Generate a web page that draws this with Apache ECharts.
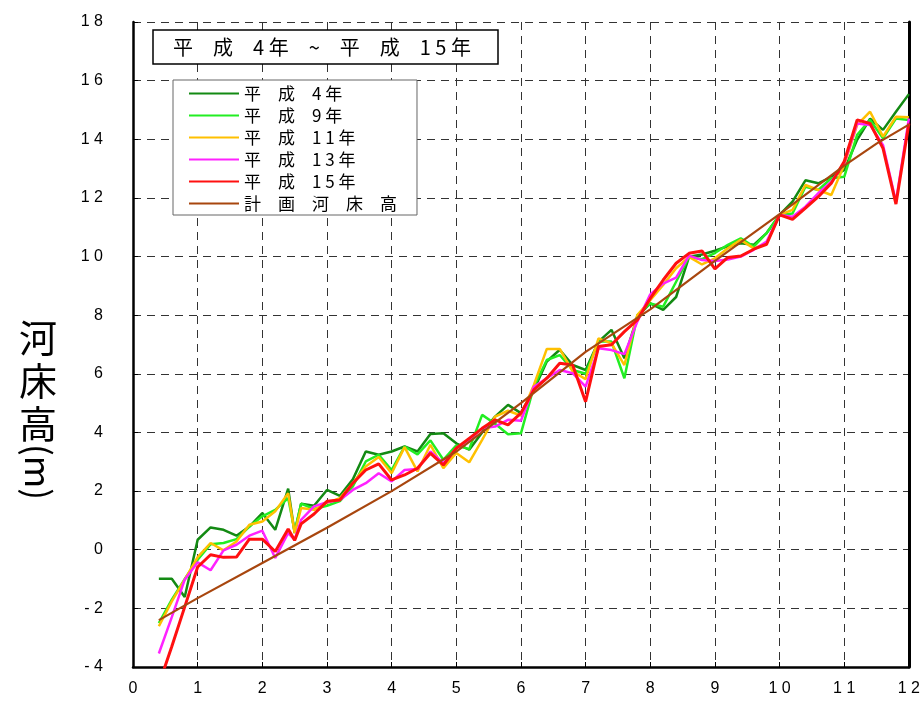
<!DOCTYPE html>
<html>
<head>
<meta charset="utf-8">
<script src="https://cdn.jsdelivr.net/npm/echarts@6/dist/echarts.min.js"></script>
<style>
  html, body { margin: 0; padding: 0; background: #fff; }
  #riverbed { width: 923px; height: 702px; }
</style>
</head>
<body>
<div id="riverbed"></div>
<script>
// 距離標 (km)
const distance = [0.4, 0.6, 0.8, 1.0, 1.2, 1.4, 1.6, 1.8, 2.0, 2.2, 2.4, 2.5, 2.6, 2.8, 3.0,
  3.2, 3.4, 3.6, 3.8, 4.0, 4.2, 4.4, 4.6, 4.8, 5.0, 5.2, 5.4, 5.6, 5.8, 6.0,
  6.2, 6.4, 6.6, 6.8, 7.0, 7.2, 7.4, 7.6, 7.8, 8.0, 8.2, 8.4, 8.6, 8.8, 9.0,
  9.2, 9.4, 9.6, 9.8, 10.0, 10.2, 10.4, 10.6, 10.8, 11.0, 11.2, 11.4, 11.6, 11.8, 12.0];

// 河床高 (m)
const h4 = [-0.99, -0.99, -1.61, 0.34, 0.76, 0.68, 0.48, 0.79, 1.25, 0.68, 2.08, 0.57, 1.57, 1.5, 2.04,
  1.84, 2.4, 3.35, 3.24, 3.35, 3.52, 3.35, 3.95, 3.97, 3.63, 3.41, 4.0, 4.54, 4.94, 4.66,
  5.45, 6.42, 6.82, 6.3, 6.13, 7.1, 7.5, 6.53, 7.95, 8.4, 8.18, 8.62, 9.99, 10.07, 10.2,
  10.35, 10.45, 10.4, 10.8, 11.42, 11.87, 12.6, 12.5, 12.72, 12.95, 13.98, 14.7, 14.32, 14.94, 15.54];
const h9 = [-2.5, -1.7, -1.0, -0.34, 0.19, 0.23, 0.36, 0.79, 1.14, 1.36, 1.76, 0.63, 1.57, 1.39, 1.5,
  1.66, 2.16, 3.01, 3.24, 2.72, 3.52, 3.25, 3.73, 3.07, 3.56, 3.43, 4.6, 4.3, 3.94, 3.97,
  5.56, 6.47, 6.64, 6.13, 6.0, 7.1, 7.1, 5.85, 8.0, 8.4, 8.29, 9.14, 9.99, 9.91, 10.12,
  10.4, 10.62, 10.34, 10.8, 11.42, 11.47, 12.38, 12.27, 12.67, 12.72, 14.15, 14.66, 14.03, 14.71, 14.66];
const h11 = [-2.61, -1.76, -1.02, -0.25, 0.23, -0.02, 0.28, 0.85, 0.96, 1.31, 1.93, 0.57, 1.42, 1.36, 1.6,
  1.76, 2.27, 2.84, 3.16, 2.61, 3.5, 2.67, 3.58, 2.78, 3.3, 2.98, 3.75, 4.54, 4.74, 4.58,
  5.62, 6.85, 6.85, 6.08, 5.82, 7.21, 7.04, 6.3, 8.0, 8.51, 9.03, 9.6, 9.99, 9.73, 9.94,
  10.28, 10.57, 10.28, 10.45, 11.42, 11.59, 12.44, 12.27, 12.1, 13.12, 14.49, 14.94, 14.09, 14.77, 14.75];
const h13 = [-3.54, -2.3, -1.02, -0.43, -0.7, -0.02, 0.17, 0.48, 0.65, -0.28, 0.57, 0.34, 1.02, 1.48, 1.62,
  1.7, 2.04, 2.27, 2.61, 2.33, 2.72, 2.75, 3.35, 2.95, 3.46, 3.75, 4.14, 4.2, 4.43, 4.4,
  5.56, 5.85, 6.13, 6.02, 5.56, 6.87, 6.81, 6.67, 7.78, 8.71, 9.08, 9.28, 10.03, 9.88, 9.85,
  9.9, 10.0, 10.23, 10.51, 11.42, 11.36, 11.7, 12.16, 12.55, 13.18, 14.54, 14.49, 13.8, 11.87, 14.71];
const h15 = [-4.6, -3.3, -1.95, -0.59, -0.17, -0.26, -0.25, 0.36, 0.36, -0.06, 0.71, 0.32, 0.88, 1.22, 1.65,
  1.7, 2.27, 2.72, 2.93, 2.38, 2.55, 2.78, 3.29, 2.89, 3.46, 3.8, 4.14, 4.43, 4.26, 4.66,
  5.45, 5.85, 6.36, 6.3, 5.05, 6.93, 6.99, 7.44, 7.84, 8.57, 9.2, 9.77, 10.11, 10.19, 9.58,
  9.97, 10.02, 10.25, 10.42, 11.42, 11.27, 11.65, 12.04, 12.5, 13.24, 14.66, 14.54, 13.69, 11.79, 14.54];

// 計画河床高
const planDistance = [0.4, 1, 2, 3, 4, 5, 6, 7, 8, 9, 10, 11, 11.5, 12];
const planBed = [-2.4, -1.65, -0.45, 0.75, 2.0, 3.35, 5.0, 6.75, 8.2, 9.85, 11.45, 13.1, 13.85, 14.5];

const names = ['平　成　4 年', '平　成　9 年', '平　成　1 1 年', '平　成　1 3 年', '平　成　1 5 年', '計　画　河　床　高'];
const colors = ['#138a13', '#22ee22', '#ffc000', '#ff22ff', '#ff1010', '#a8460e'];

function pairs(xs, ys) {
  return xs.map((x, i) => [x, ys[i]]);
}
function spaced(v) {
  return String(v).split('').join(' ');
}

const chart = echarts.init(document.getElementById('riverbed'));
const surveys = [h4, h9, h11, h13, h15];

const series = surveys.map((ys, i) => ({
  name: names[i],
  type: 'line',
  symbol: 'none',
  data: pairs(distance, ys),
  lineStyle: { color: colors[i], width: i === 4 ? 3 : 2.5 },
  itemStyle: { color: colors[i] },
  animation: false
}));
series.push({
  name: names[5],
  type: 'line',
  symbol: 'none',
  data: pairs(planDistance, planBed),
  lineStyle: { color: colors[5], width: 2.2 },
  itemStyle: { color: colors[5] },
  animation: false
});

const labelFont = { color: '#000', fontSize: 16, fontFamily: 'Liberation Sans' };
const dashed = { show: true, lineStyle: { color: '#333', width: 1, type: [8, 6] } };

const option = {
  backgroundColor: '#fff',
  animation: false,
  grid: { left: 133, right: 9, top: 22, bottom: 35 },
  xAxis: {
    type: 'value', min: 0, max: 12, interval: 1,
    axisLine: { show: true, onZero: false, lineStyle: { color: '#000', width: 2.5 } },
    axisTick: { show: true, inside: true, length: 5, lineStyle: { color: '#000' } },
    axisLabel: Object.assign({ margin: 14, formatter: spaced }, labelFont),
    splitLine: dashed
  },
  yAxis: [{
    type: 'value', min: -4, max: 18, interval: 2,
    axisLine: { show: true, onZero: false, lineStyle: { color: '#000', width: 2.5 } },
    axisTick: { show: true, inside: true, length: 5, lineStyle: { color: '#000' } },
    axisLabel: Object.assign({ margin: 30, formatter: spaced }, labelFont),
    splitLine: dashed
  }, {
    type: 'value', min: -4, max: 18, interval: 2, position: 'right',
    axisLine: { show: true, onZero: false, lineStyle: { color: '#000', width: 3 } },
    axisTick: { show: false }, axisLabel: { show: false }, splitLine: { show: false }
  }],
  legend: {
    orient: 'vertical', left: 173, top: 80,
    icon: 'rect', itemWidth: 50, itemHeight: 2, itemGap: 5,
    padding: [5, 20, 3, 16],
    borderColor: '#666', borderWidth: 1, backgroundColor: '#fff',
    selectedMode: false,
    textStyle: { color: '#000', fontSize: 17, lineHeight: 17, fontFamily: 'Noto Sans CJK JP' },
    data: names
  },
  graphic: [
    {
      type: 'rect', shape: { x: 153, y: 30, width: 345, height: 34 },
      style: { fill: '#fff', stroke: '#000', lineWidth: 1.5 }, z: 100
    },
    {
      type: 'text', x: 322, y: 47, z: 101,
      style: {
        text: '平　成　4 年　~　平　成　1 5 年', fill: '#000',
        font: '20px "Noto Sans CJK JP"', align: 'center', verticalAlign: 'middle'
      }
    },
    {
      type: 'text', x: 38, y: 316,
      style: {
        text: '河\n床\n高', fill: '#000', lineHeight: 43,
        font: '38px "Noto Sans CJK JP"', align: 'center', verticalAlign: 'top'
      }
    },
    {
      type: 'text', x: 38, y: 472, rotation: -Math.PI / 2,
      style: {
        text: '(m)', fill: '#000',
        font: '35px "Noto Sans CJK JP"', align: 'center', verticalAlign: 'middle'
      }
    }
  ],
  series: series
};

chart.setOption(option);
</script>
</body>
</html>
